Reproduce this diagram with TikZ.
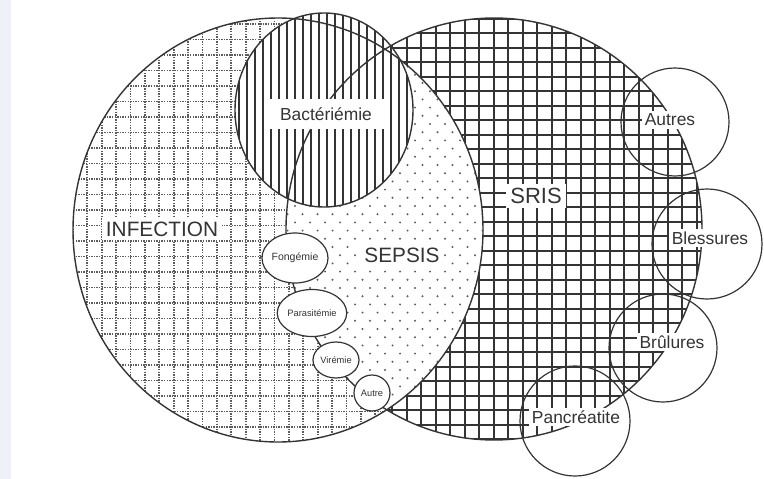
\documentclass[tikz,border=0pt]{standalone}
\usepackage{fontspec}
\setmainfont{Liberation Sans}
\usepackage{tikz}
\usetikzlibrary{shapes.geometric}
\definecolor{inkgrey}{RGB}{52,52,52}
\definecolor{dotgrey}{RGB}{92,92,92}
\definecolor{scanstrip}{RGB}{238,241,247}
\tikzset{
  outline/.style={draw=inkgrey,line width=1.4pt},
  srisgrid/.style={draw=inkgrey,line width=1.9pt},
  infgrid/.style={draw=dotgrey,line width=1.7pt,dash pattern=on 1.4pt off 1.2pt},
  hatchline/.style={draw=inkgrey,line width=1.4pt},
  sepsisdot/.style={fill=dotgrey},
  bigtag/.style={fill=white,text=inkgrey,inner xsep=4pt,inner ysep=4pt,
    font=\fontsize{20.8}{24}\selectfont},
  midtag/.style={fill=white,text=inkgrey,inner xsep=3pt,inner ysep=3pt,
    font=\fontsize{17.4}{20}\selectfont},
  minorbubble/.style={ellipse,draw=inkgrey,line width=1.2pt,fill=white,
    inner sep=0pt,text=inkgrey,font=\fontsize{9.3}{11}\selectfont},
  causering/.style={circle,draw=inkgrey,line width=1.2pt,inner sep=0pt}
}

\begin{document}
\begin{tikzpicture}[x=1pt,y=-1pt]
  \useasboundingbox (0,0) rectangle (764,479);
  \fill[scanstrip] (0,0) rectangle (11,479);
  \coordinate (infc) at (278,230);
  \coordinate (srisc) at (494,229);
  \coordinate (bactc) at (324,110);
  \begin{scope}
    \clip (srisc) ellipse [x radius=208,y radius=211];
    \foreach \i in {0,...,30} \draw[srisgrid] ({276.2+14.5*\i},0) -- ++(0,479);
    \foreach \j in {0,...,31} \draw[srisgrid] (250,{4.3+14.5*\j}) -- ++(500,0);
  \end{scope}
  \begin{scope}
    \clip (infc) ellipse [x radius=205,y radius=212];
    \fill[white] (infc) ellipse [x radius=205,y radius=212];
    \foreach \i in {0,...,29} \draw[infgrid] ({72.9+14.4*\i},5) -- ++(0,460);
    \foreach \j in {0,...,29} \draw[infgrid] (60,{8.5+15.5*\j}) -- ++(440,0);
    \clip (srisc) ellipse [x radius=208,y radius=211];
    \fill[white] (srisc) ellipse [x radius=208,y radius=211];
    \foreach \r in {0,...,46} \foreach \c in {0,...,14}
      \fill[sepsisdot] ({280+15*\c+7.5*mod(\r,2)},{42+8.2*\r}) circle [radius=1.1];
  \end{scope}
  \begin{scope}
    \clip (bactc) ellipse [x radius=89,y radius=97];
    \fill[white] (bactc) ellipse [x radius=89,y radius=97];
    \foreach \i in {0,...,23} \draw[hatchline] ({231+8*\i},10) -- ++(0,200);
  \end{scope}
  \draw[outline] (infc) ellipse [x radius=205,y radius=212];
  \draw[outline] (srisc) ellipse [x radius=208,y radius=211];
  \draw[outline] (bactc) ellipse [x radius=89,y radius=97];

  \node[causering,minimum size=108pt] (autres) at (675,122) {};
  \node[causering,minimum size=110pt] (blessures) at (707,244) {};
  \node[causering,minimum size=108pt] (brulures) at (663,348) {};
  \node[causering,minimum size=110pt] (pancreatite) at (575,421) {};
  \node[midtag] (autrestag) at (670,120) {Autres};
  \node[midtag] (blessurestag) at (710,238) {Blessures};
  \node[midtag] (brulurestag) at (672,342) {Brûlures};
  \node[midtag] (pancreatitetag) at (576,417) {Pancréatite};

  \node[minorbubble,minimum width=64pt,minimum height=50pt,
    font=\fontsize{10.5}{12}\selectfont] (fongemie) at (295,258) {Fongémie};
  \node[minorbubble,minimum width=60pt,minimum height=47pt]
    (parasitemie) at (312,313) {Parasitémie};
  \node[minorbubble,minimum width=46pt,minimum height=36pt]
    (viremie) at (336,360) {Virémie};
  \node[minorbubble,minimum width=36pt,minimum height=36pt]
    (autre) at (372,393) {Autre};

  \node[bigtag] (infection) at (162,229) {INFECTION};
  \node[bigtag] (sepsis) at (402,255) {SEPSIS};
  \node[bigtag,font=\fontsize{22}{26}\selectfont] (sris) at (536,196) {SRIS};
  \node[midtag,inner xsep=12pt,inner ysep=9pt] (bacteriemie) at (326,114)
    {Bactériémie};
\end{tikzpicture}
\end{document}
